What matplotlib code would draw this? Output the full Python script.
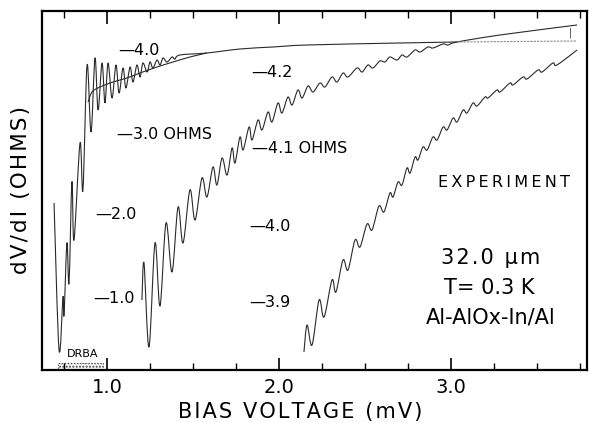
import matplotlib
matplotlib.use("Agg")
import matplotlib.pyplot as plt
import numpy as np
from matplotlib.patches import Rectangle, PathPatch
from matplotlib.path import Path
from matplotlib.ticker import MultipleLocator

# ---- data (bias voltage in mV, dV/dI in arbitrary offset units) ----
c1_v = [0.692, 0.721, 0.744, 0.750, 0.767, 0.779, 0.796, 0.808, 0.843, 0.860,
        0.884, 0.907, 0.930, 0.948, 0.971, 0.988, 1.006, 1.029, 1.052, 1.070,
        1.093, 1.110, 1.134, 1.151, 1.174, 1.192, 1.209, 1.233, 1.250, 1.267,
        1.291, 1.308, 1.326, 1.349, 1.378, 1.395, 1.424, 1.581, 1.773, 1.965,
        2.163, 2.703, 3.035]
c1_r = [167, 20, 73, 55, 127, 87, 188, 130, 227, 180,
        305, 238, 312, 260, 307, 267, 307, 272, 305, 277,
        302, 282, 303, 288, 305, 293, 307, 298, 308, 302,
        310, 305, 312, 308, 313, 311, 315, 317, 321, 323,
        325, 327, 328]
c1_tail_v = [3.035, 3.733]
c1_tail_r = [328, 329]

smooth_v = [0.890, 0.913, 0.959, 1.035, 1.116, 1.192, 1.291, 1.384, 1.482, 1.581]
smooth_r = [268, 278, 283, 288, 292, 297, 303, 308, 313, 317]

c2_v = [1.203, 1.215, 1.244, 1.279, 1.308, 1.343, 1.378, 1.413, 1.442, 1.482,
        1.512, 1.552, 1.581, 1.616, 1.639, 1.669, 1.698, 1.727, 1.744, 1.773,
        1.791, 1.826, 1.843, 1.878, 1.901, 1.936, 1.959, 1.994, 2.017, 2.052,
        2.076, 2.110, 2.134, 2.169, 2.198, 2.238, 2.267, 2.308, 2.337, 2.372,
        2.401, 2.454, 2.483, 2.517, 2.546, 2.587, 2.616, 2.645, 2.686, 2.715,
        2.744, 2.791, 2.820, 2.866, 2.895, 2.954, 2.983, 3.035, 3.285, 3.733]
c2_r = [70, 107, 23, 127, 64, 147, 98, 163, 127, 180,
        150, 192, 173, 203, 185, 212, 195, 222, 207, 233,
        220, 243, 230, 250, 240, 258, 248, 267, 257, 273,
        265, 280, 272, 284, 278, 287, 283, 293, 288, 297,
        293, 302, 298, 305, 302, 309, 308, 313, 310, 315,
        313, 320, 318, 323, 322, 326, 325, 328, 335, 345]

c3_v = [2.145, 2.163, 2.192, 2.233, 2.262, 2.308, 2.331, 2.372, 2.401, 2.442,
        2.471, 2.512, 2.541, 2.581, 2.610, 2.645, 2.663, 2.692, 2.715, 2.744,
        2.762, 2.791, 2.808, 2.837, 2.861, 2.895, 2.919, 2.954, 2.977, 3.012,
        3.035, 3.070, 3.093, 3.128, 3.151, 3.198, 3.215, 3.267, 3.285, 3.343,
        3.360, 3.419, 3.442, 3.506, 3.529, 3.593, 3.616, 3.733]
c3_r = [18, 45, 25, 70, 53, 90, 78, 110, 100, 130,
        123, 146, 140, 164, 158, 177, 173, 188, 185, 202,
        197, 213, 210, 223, 220, 233, 230, 243, 240, 252,
        248, 260, 257, 267, 264, 273, 272, 280, 278, 287,
        285, 293, 291, 300, 298, 307, 305, 320]

x_ticks = [1.0, 2.0, 3.0]
x_tick_labels = ["1.0", "2.0", "3.0"]

scale_left = ["4.0", "3.0 OHMS", "2.0", "1.0"]
scale_right = ["4.2", "4.1 OHMS", "4.0", "3.9"]


def spaced(s, sep="\u200a"):
    return sep.join(s)


def smooth_trace(ax, xs, ys, **kw):
    """Draw a trace through the read points as a smooth Bezier path."""
    p = np.column_stack([xs, ys]).astype(float)
    n = len(p)
    verts = [p[0]]
    codes = [Path.MOVETO]
    for i in range(n - 1):
        p0 = p[i - 1] if i > 0 else p[i]
        p1, p2 = p[i], p[i + 1]
        p3 = p[i + 2] if i + 2 < n else p[i + 1]
        verts += [p1 + (p2 - p0) / 6.0, p2 - (p3 - p1) / 6.0, p2]
        codes += [Path.CURVE4] * 3
    ax.add_patch(PathPatch(Path(verts, codes), fill=False, **kw))


# ---- figure ----
fig = plt.figure(figsize=(5.9, 4.23), dpi=100)
ax = fig.add_axes([0.0712, 0.1253, 0.9238, 0.8487])
lc = "#2a2a2a"
smooth_trace(ax, c1_v, c1_r, ec=lc, lw=0.8)
ax.plot(c1_tail_v, c1_tail_r, color="#8a8a8a", lw=0.8, ls=(0, (2, 1)))
smooth_trace(ax, smooth_v, smooth_r, ec=lc, lw=0.8)
smooth_trace(ax, c2_v, c2_r, ec=lc, lw=0.8)
smooth_trace(ax, c3_v, c3_r, ec=lc, lw=0.8)

ax.set_xlim(0.622, 3.791)
ax.set_ylim(0, 359)
ax.set_xticks(x_ticks)
ax.set_xticklabels(x_tick_labels)
ax.xaxis.set_minor_locator(MultipleLocator(0.25))
ax.set_yticks([])
ax.tick_params(axis="x", which="major", direction="in", length=9, width=1.2,
               top=True, labelsize=14, pad=6)
ax.tick_params(axis="x", which="minor", direction="in", length=5, width=1.0, top=True)
for s in ax.spines.values():
    s.set_linewidth(1.6)

ax.set_xlabel(spaced("BIAS VOLTAGE (mV)"), fontsize=15)
ax.xaxis.set_label_coords(0.474, -0.088)
ax.set_ylabel(spaced("dV/dI (OHMS)"), fontsize=15.5, labelpad=8)

fs = 11.5
left_pos = [(0.139, 0.889), (0.138, 0.657), (0.097, 0.432), (0.094, 0.198)]
right_pos = [(0.383, 0.830), (0.385, 0.616), (0.380, 0.401), (0.380, 0.187)]
for lab, (x, y) in zip(scale_left, left_pos):
    ax.text(x, y, "\u2014" + lab, transform=ax.transAxes, fontsize=fs,
            ha="left", va="center")
for lab, (x, y) in zip(scale_right, right_pos):
    ax.text(x, y, "\u2014" + lab, transform=ax.transAxes, fontsize=fs,
            ha="left", va="center")

ax.text(0.848, 0.521, spaced("EXPERIMENT", "\u2009"), transform=ax.transAxes,
        fontsize=11.5, ha="center", va="center")
ax.text(0.824, 0.312, spaced("32.0 \u03bcm"), transform=ax.transAxes, fontsize=15,
        ha="center", va="center")
ax.text(0.820, 0.228, "T= 0.3 K", transform=ax.transAxes, fontsize=15,
        ha="center", va="center")
ax.text(0.824, 0.145, "Al-AlOx-In/Al", transform=ax.transAxes, fontsize=15,
        ha="center", va="center")
ax.text(0.969, 0.939, "|", transform=ax.transAxes, fontsize=7,
        ha="center", va="center", color="#333333")
ax.text(0.075, 0.044, "DRBA", transform=ax.transAxes, fontsize=8,
        ha="center", va="center")
ax.add_patch(Rectangle((0.029, 0.003), 0.083, 0.017, transform=ax.transAxes,
                       fill=False, ls=":", lw=0.8, ec="#444444", hatch="....."))

fig.savefig("out.png", dpi=100)
